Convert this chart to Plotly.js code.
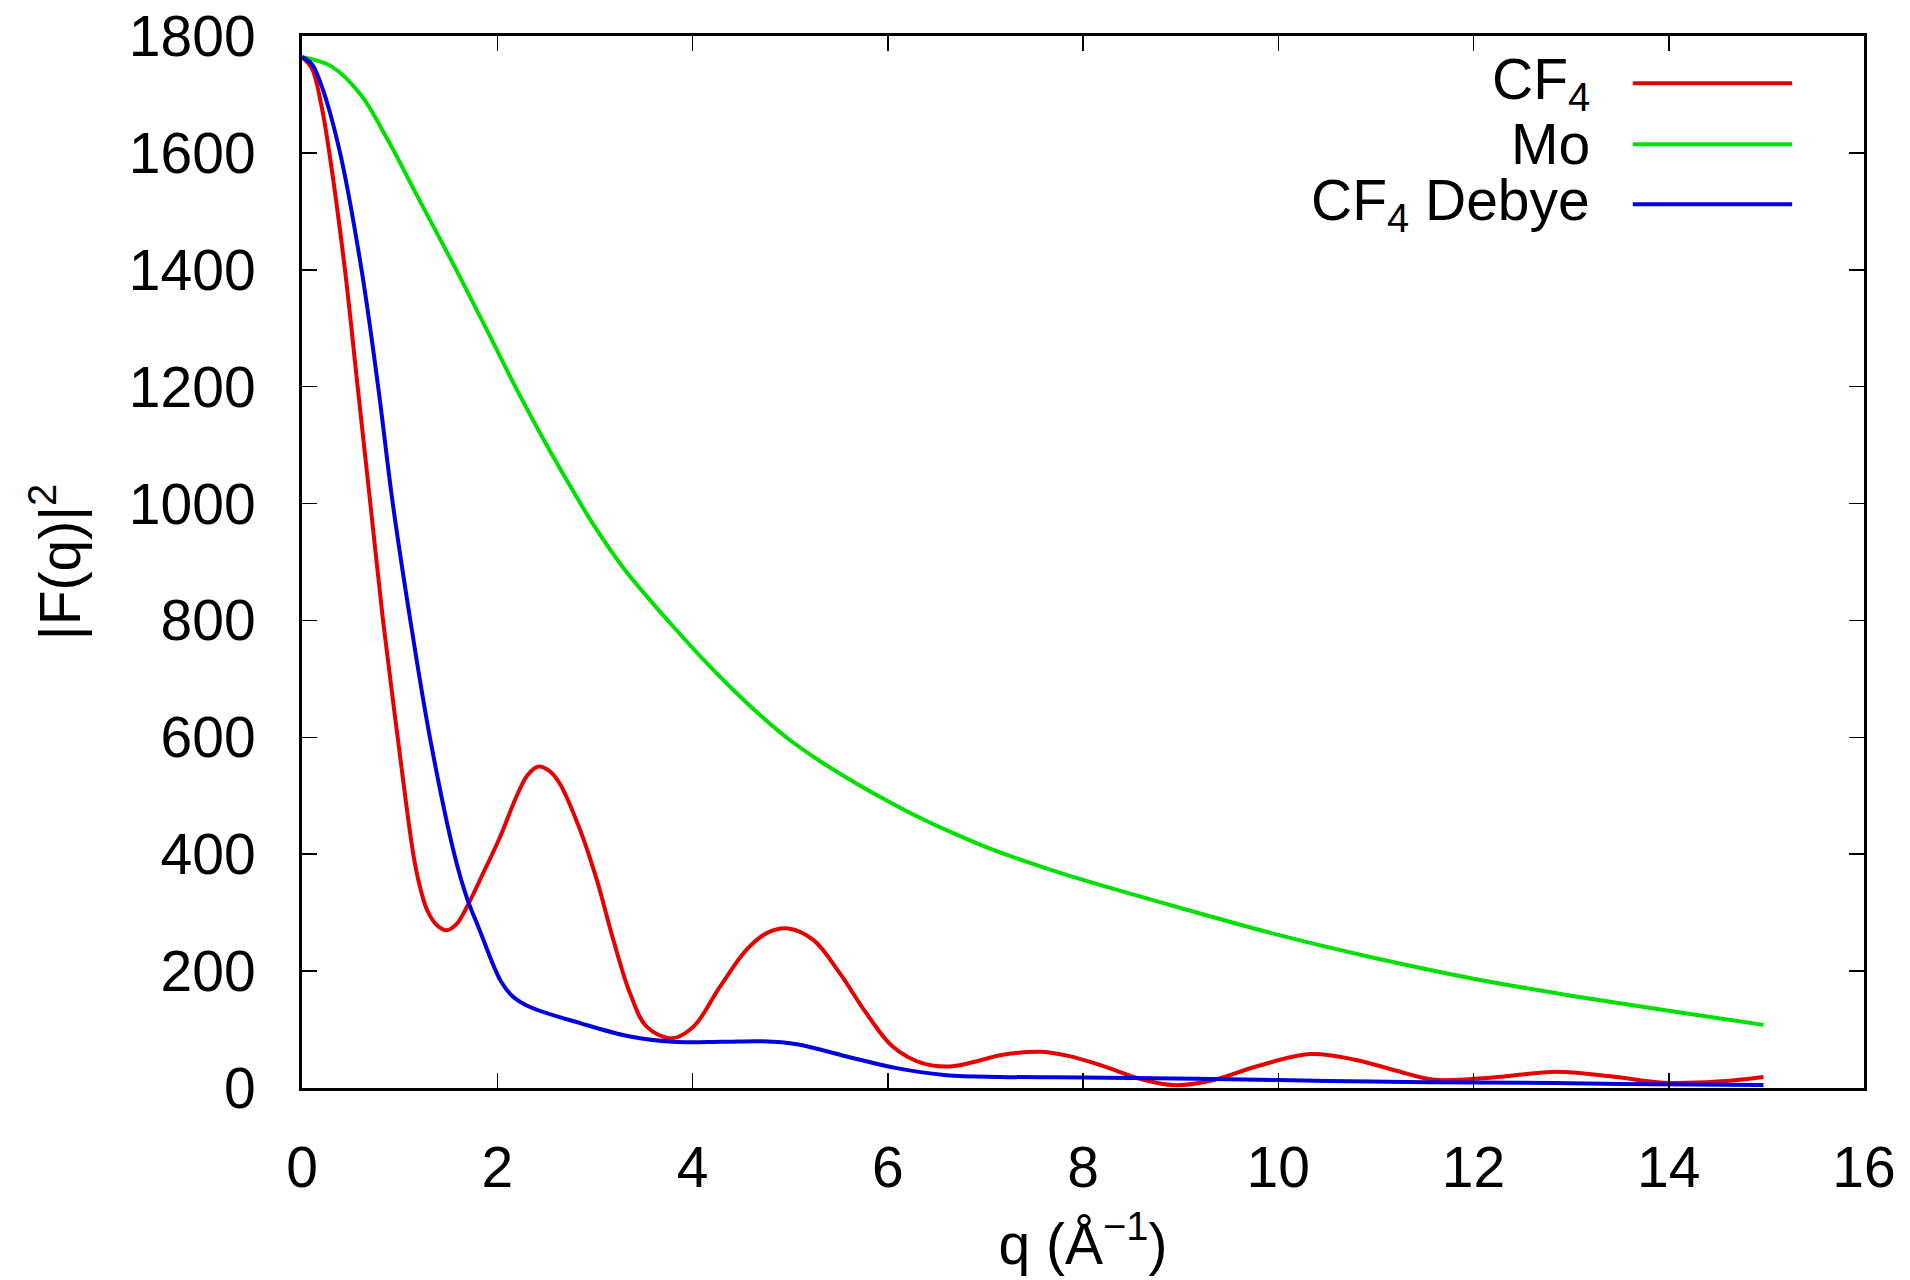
<!DOCTYPE html>
<html>
<head>
<meta charset="utf-8">
<script src="https://cdn.plot.ly/plotly-3.0.1.min.js"></script>
<style>html,body{margin:0;padding:0;background:#fff;}#chart{width:1910px;height:1280px;}</style>
</head>
<body>
<div id="chart"></div>
<script>
// q values and |F(q)|^2
const qCF4 = [0, 0.1, 0.2, 0.28, 0.44, 0.57, 0.70, 0.83, 0.98, 1.14, 1.20, 1.28, 1.38, 1.48, 1.58, 1.69, 1.82, 2.03, 2.20, 2.31, 2.42, 2.53, 2.64, 2.85, 3.02, 3.19, 3.36, 3.53, 3.79, 4.01, 4.28, 4.55, 4.76, 4.98, 5.24, 5.51, 5.78, 6.05, 6.36, 6.64, 6.94, 7.15, 7.56, 7.85, 8.20, 8.60, 8.93, 9.30, 9.80, 10.33, 10.80, 11.20, 11.60, 12.20, 12.85, 13.40, 13.95, 14.50, 14.97];
const fCF4 = [1764, 1745, 1680, 1600, 1400, 1200, 1000, 800, 600, 400, 350, 305, 279, 270, 280, 310, 355, 430, 500, 535, 550, 543, 521, 441, 356, 253, 162, 105, 85, 105, 173, 236, 265, 273, 253, 196, 128, 71, 42, 37, 47, 56, 62, 55, 38, 15, 5, 12, 38, 58, 48, 30, 14, 18, 28, 20, 9, 11, 19];

const qMo = [0, 0.3, 0.6, 0.87, 1.2, 1.58, 1.9, 2.2, 2.5, 2.8, 3.0, 3.3, 3.6, 3.8, 4.1, 4.4, 4.7, 5.0, 5.3, 5.58, 5.9, 6.26, 6.7, 7.15, 7.6, 8.0, 9.0, 10.0, 11.0, 12.0, 13.0, 14.0, 14.97];
const fMo = [1764, 1748, 1700, 1625, 1520, 1400, 1295, 1195, 1102, 1015, 960, 888, 828, 790, 735, 684, 637, 595, 560, 531, 500, 468, 434, 403, 377, 356, 308, 262, 222, 187, 158, 132, 108];

const qDebye = [0, 0.1, 0.2, 0.39, 0.61, 0.78, 0.93, 1.11, 1.31, 1.56, 1.69, 1.82, 2.03, 2.15, 2.33, 2.85, 3.36, 3.80, 4.30, 4.72, 5.07, 5.58, 6.09, 6.60, 7.15, 8.00, 8.50, 9.50, 10.50, 11.50, 12.50, 13.50, 14.97];
const fDebye = [1764, 1752, 1715, 1600, 1400, 1200, 1000, 800, 600, 400, 325, 270, 185, 158, 139, 111, 88, 79, 79, 80, 75, 54, 34, 22, 19, 18, 17, 15, 12, 10, 9, 7, 5];

const seriesNames = ['CF<sub>4</sub>', 'Mo', 'CF<sub>4</sub> Debye'];
const seriesColors = ['#e60000', '#00e000', '#0000e0'];

const FONT = 'Liberation Sans, Arial, Helvetica, sans-serif';
const FS = 57;

const xs = [qCF4, qMo, qDebye];
const ys = [fCF4, fMo, fDebye];

const traces = xs.map((x, i) => ({
  x: x, y: ys[i], type: 'scatter', mode: 'lines', name: seriesNames[i],
  line: {color: seriesColors[i], width: 4, shape: 'spline', smoothing: 1},
  showlegend: false
}));

// legend drawn gnuplot-style: right-aligned text, line sample on the right
const legY = [0.955, 0.897, 0.840];
const annotations = seriesNames.map((n, i) => ({
  xref: 'paper', yref: 'paper', x: 0.826, y: legY[i], xanchor: 'right', yanchor: 'middle',
  text: n, showarrow: false, font: {family: FONT, size: FS, color: '#000'}
}));
const shapes = seriesColors.map((c, i) => ({
  type: 'line', xref: 'paper', yref: 'paper', x0: 0.852, x1: 0.954, y0: legY[i], y1: legY[i],
  line: {color: c, width: 4}
}));

const axisCommon = {
  showline: true, linecolor: '#000', linewidth: 3, mirror: 'ticks',
  ticks: 'inside', ticklen: 15, tickwidth: 1.5, tickcolor: '#000',
  showgrid: false, zeroline: false,
  tickfont: {family: FONT, size: FS, color: '#000'}
};

const layout = {
  width: 1910, height: 1280,
  margin: {l: 302, r: 46, t: 36, b: 192},
  paper_bgcolor: '#fff', plot_bgcolor: '#fff',
  xaxis: Object.assign({}, axisCommon, {
    range: [0, 16], dtick: 2, tick0: 0, ticklabelstandoff: 28,
    title: {text: 'q (Å<sup>−1</sup>)', font: {family: FONT, size: FS, color: '#000'}, standoff: 26}
  }),
  yaxis: Object.assign({}, axisCommon, {
    range: [0, 1800], dtick: 200, tick0: 0, ticklabelstandoff: 32,
    title: {text: '|F(q)|<sup>2</sup>', font: {family: FONT, size: FS, color: '#000'}, standoff: 30}
  }),
  annotations: annotations,
  shapes: shapes
};

Plotly.newPlot('chart', traces, layout, {displayModeBar: false, staticPlot: true});
</script>
</body>
</html>
